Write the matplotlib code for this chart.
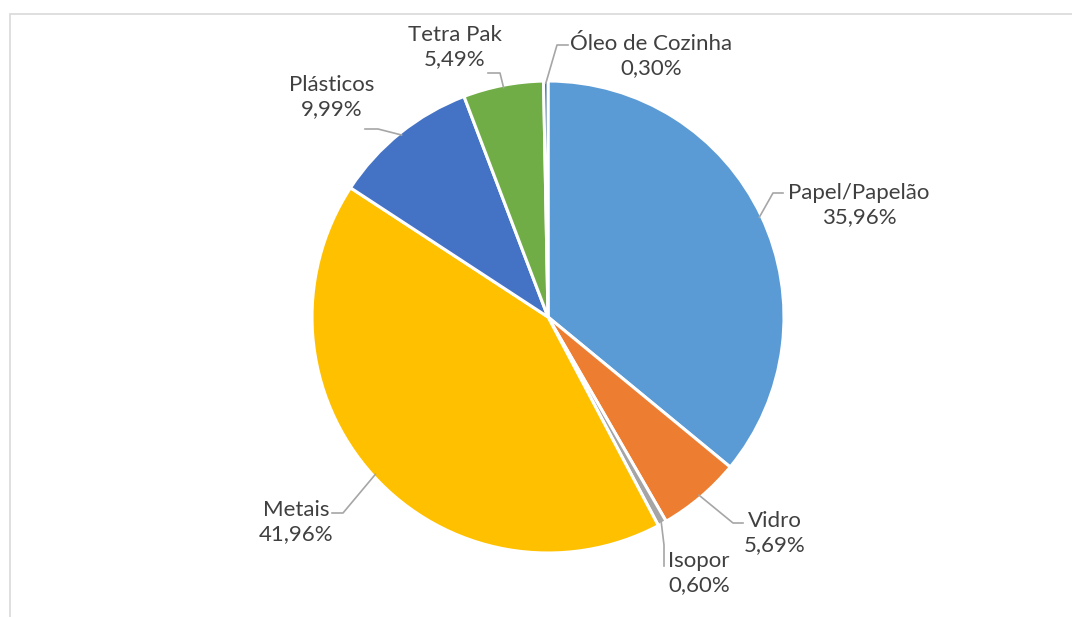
import numpy as np
import matplotlib.pyplot as plt
from matplotlib.patches import Rectangle

plt.rcParams['font.family'] = ['Lato', 'DejaVu Sans']

categories = ['Papel/Papelão', 'Vidro', 'Isopor', 'Metais', 'Plásticos', 'Tetra Pak', 'Óleo de Cozinha']
shares = [35.96, 5.69, 0.60, 41.96, 9.99, 5.49, 0.30]
colors = ['#5B9BD5', '#ED7D31', '#A5A5A5', '#FFC000', '#4472C4', '#70AD47', '#255E91']

# label layout in pixels: text centre, then leader elbow and tail
label_xy = [(859, 205), (775, 533), (699, 573), (296, 522), (332, 97), (455, 47), (651, 56)]
leader_pts = [
    [(773, 193), (783, 193)],
    [(733, 523), (743, 523)],
    [(664, 545), (664, 566)],
    [(343, 513), (332, 513)],
    [(378, 129), (365, 129)],
    [(500, 73), (488, 73)],
    [(557, 45), (568, 45)],
]

W, H = 1072, 617
cx, cy, R = 548, 317, 236

fig = plt.figure(figsize=(W / 100, H / 100), dpi=100)
fig.patches.append(Rectangle((9.5 / W, -0.1), 1.2, (H - 13.5) / H + 0.1,
                             transform=fig.transFigure, fill=False,
                             edgecolor='#D9D9D9', linewidth=1.2))

ax = fig.add_axes([(cx - R) / W, (H - cy - R) / H, 2 * R / W, 2 * R / H])
wedges, _ = ax.pie(shares, colors=colors, startangle=90, counterclock=False,
                   radius=1, wedgeprops=dict(edgecolor='white', linewidth=2.2))
ax.set_xlim(-1, 1)
ax.set_ylim(-1, 1)
ax.set_aspect('equal')
ax.axis('off')


def px(p):
    return ((p[0] - cx) / R, (cy - p[1]) / R)


total = sum(shares)
start = 0.0
for name, val, (lx, ly), pts in zip(categories, shares, label_xy, leader_pts):
    mid = start + val / 2
    start += val
    ang = np.deg2rad(90 - 360 * mid / total)
    edge = (0.99 * np.cos(ang), 0.99 * np.sin(ang))
    path = [edge] + [px(p) for p in pts]
    xs, ys = zip(*path)
    ax.plot(xs, ys, color='#A6A6A6', linewidth=1.2, clip_on=False)
    tx, ty = px((lx, ly))
    ax.text(tx, ty, f'{name}\n{val:.2f}%'.replace('.', ','), ha='center', va='center',
            multialignment='center', fontsize=16, color='#404040', linespacing=1.27)

fig.savefig('out.png', dpi=100)
